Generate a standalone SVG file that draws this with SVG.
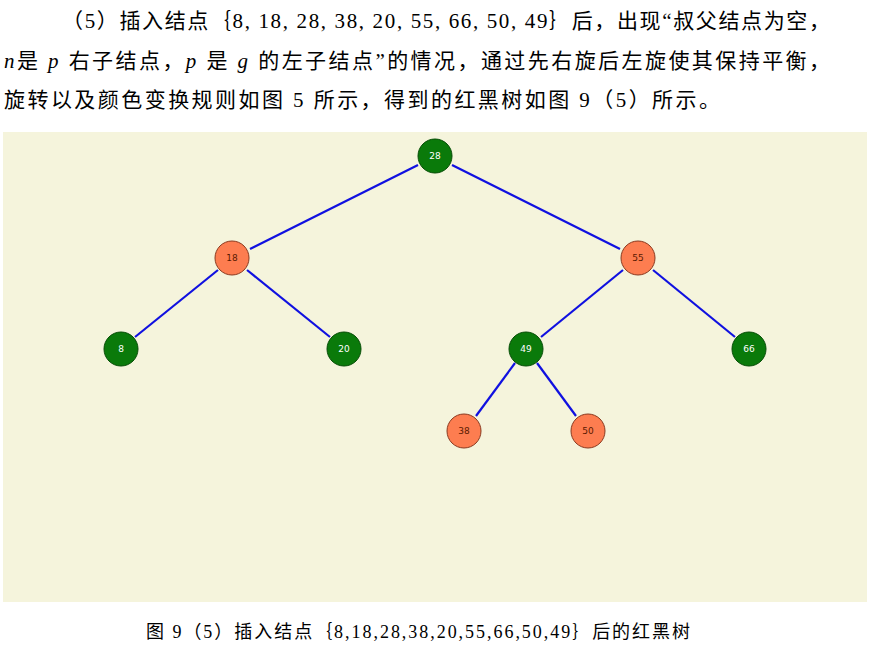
<svg xmlns="http://www.w3.org/2000/svg" width="870" height="651" viewBox="0 0 870 651">
<style>
.t{font-family:"Liberation Serif","Noto Sans CJK SC",serif;font-size:21px;fill:#000}
.i{font-style:italic}
.e{stroke:#1010e0;stroke-width:2.2}
.g circle{fill:#0a7a0a;stroke:#064d06;stroke-width:1}
.g text{fill:#fff}
.r circle{fill:#fd7d50;stroke:#8a3a20;stroke-width:1}
.r text{fill:#5a1a00}
.n text{font-family:"DejaVu Sans",sans-serif;font-size:9px;text-anchor:middle}
</style>
<rect width="870" height="651" fill="#fff"/>
<text class="t" x="62" y="28" textLength="768" lengthAdjust="spacing">（5）插入结点｛8, 18, 28, 38, 20, 55, 66, 50, 49｝后，出现“叔父结点为空，</text>
<text class="t" x="4" y="68" textLength="826" lengthAdjust="spacing"><tspan class="i">n</tspan>是 <tspan class="i">p</tspan> 右子结点，<tspan class="i">p</tspan> 是 <tspan class="i">g</tspan> 的左子结点”的情况，通过先右旋后左旋使其保持平衡，</text>
<text class="t" x="4" y="107" textLength="716" lengthAdjust="spacing">旋转以及颜色变换规则如图 5 所示，得到的红黑树如图 9（5）所示。</text>
<rect x="3" y="132" width="864" height="470" fill="#f5f4dc"/>
<g id="edges">
<line class="e" x1="418" y1="165" x2="250" y2="249"/>
<line class="e" x1="452" y1="165" x2="620" y2="249"/>
<line class="e" x1="218" y1="270" x2="135" y2="337"/>
<line class="e" x1="247" y1="270" x2="330" y2="337"/>
<line class="e" x1="623" y1="270" x2="541" y2="337"/>
<line class="e" x1="653" y1="270" x2="735" y2="337"/>
<line class="e" x1="515" y1="363" x2="476" y2="416"/>
<line class="e" x1="537" y1="363" x2="576" y2="416"/>
</g>
<g id="n28" class="n g"><circle cx="435" cy="156" r="17"/><text x="435" y="159">28</text></g>
<g id="n18" class="n r"><circle cx="232" cy="258" r="17"/><text x="232" y="261">18</text></g>
<g id="n55" class="n r"><circle cx="638" cy="258" r="17"/><text x="638" y="261">55</text></g>
<g id="n8" class="n g"><circle cx="121" cy="349" r="17"/><text x="121" y="352">8</text></g>
<g id="n20" class="n g"><circle cx="344" cy="349" r="17"/><text x="344" y="352">20</text></g>
<g id="n49" class="n g"><circle cx="526" cy="349" r="17"/><text x="526" y="352">49</text></g>
<g id="n66" class="n g"><circle cx="749" cy="349" r="17"/><text x="749" y="352">66</text></g>
<g id="n38" class="n r"><circle cx="464" cy="431" r="17"/><text x="464" y="434">38</text></g>
<g id="n50" class="n r"><circle cx="588" cy="431" r="17"/><text x="588" y="434">50</text></g>
<text class="t" x="146" y="638" textLength="544" lengthAdjust="spacing" style="font-size:18px">图 9（5）插入结点｛8,18,28,38,20,55,66,50,49｝后的红黑树</text>
</svg>
